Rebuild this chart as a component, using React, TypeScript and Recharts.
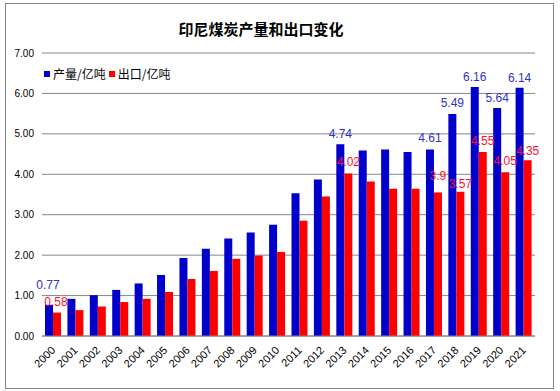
import { BarChart, Bar, XAxis, YAxis, CartesianGrid, LabelList } from 'recharts';

const years = ['2000', '2001', '2002', '2003', '2004', '2005', '2006', '2007', '2008', '2009', '2010',
  '2011', '2012', '2013', '2014', '2015', '2016', '2017', '2018', '2019', '2020', '2021'];

// 产量/亿吨
const production = [0.77, 0.92, 1.01, 1.14, 1.3, 1.51, 1.93, 2.16, 2.41, 2.56, 2.75,
  3.53, 3.87, 4.74, 4.59, 4.61, 4.55, 4.61, 5.49, 6.16, 5.64, 6.14];
// 出口/亿吨
const exports = [0.58, 0.64, 0.73, 0.84, 0.92, 1.09, 1.41, 1.61, 1.91, 1.99, 2.08,
  2.85, 3.45, 4.02, 3.82, 3.64, 3.64, 3.55, 3.57, 4.55, 4.05, 4.35];

// only some bars carry a data label in the original
const productionLabels = ['0.77', '', '', '', '', '', '', '', '', '', '',
  '', '', '4.74', '', '', '', '4.61', '5.49', '6.16', '5.64', '6.14'];
const exportLabels = ['0.58', '', '', '', '', '', '', '', '', '', '',
  '', '', '4.02', '', '', '', '3.9', '3.57', '4.55', '4.05', '4.35'];

const yTicks = [0, 1, 2, 3, 4, 5, 6, 7];

const BLUE = '#0000cc';
const RED = '#ff0000';
const GRID = '#868686';

const data = years.map((year, i) => ({
  year,
  production: production[i],
  exports: exports[i],
  productionLabel: productionLabels[i],
  exportLabel: exportLabels[i],
}));

// labels were dragged by hand in the original, a few sit higher/lower
const prodLift: Record<number, number> = { 0: 16, 17: 8, 18: 7 };
const exportLift: Record<number, number> = { 17: 12, 18: 4, 21: 5 };

const makeLabel = (color: string, dy: number, lift: Record<number, number>) => (props: any) => {
  const { x, y, width, value, index } = props;
  if (!value) return null;
  const up = lift[index] ?? dy;
  return (
    <text
      x={Number(x) + Number(width) / 2 + (index === 0 ? -1 : 0)}
      y={Number(y) - up}
      textAnchor="middle"
      fill={color}
      fontSize={12}
      fontFamily="'Liberation Sans', Arial, sans-serif"
    >
      {value}
    </text>
  );
};

const YearTick = (props: any) => {
  const { x, y, payload } = props;
  return (
    <text
      x={x}
      y={y}
      transform={`rotate(-45 ${x} ${y})`}
      textAnchor="end"
      dy={4}
      fontSize={11}
      fill="#000"
      fontFamily="'Liberation Sans', Arial, sans-serif"
    >
      {payload.value}
    </text>
  );
};

export default function App() {
  return (
    <div style={{ position: 'absolute', left: 0, top: 0, width: 560, height: 391, background: '#fff' }}>
      <div
        style={{
          position: 'absolute',
          left: 5,
          top: 3,
          width: 547,
          height: 384,
          border: '1px solid #888',
        }}
      />
      <div
        style={{
          position: 'absolute',
          left: 161,
          top: 18,
          width: 200,
          textAlign: 'center',
          fontFamily: "'Noto Sans CJK SC', sans-serif",
          fontWeight: 'bold',
          fontSize: 15,
          lineHeight: '22px',
          color: '#000',
        }}
      >
        印尼煤炭产量和出口变化
      </div>
      {/* legend */}
      <div
        style={{
          position: 'absolute',
          left: 44,
          top: 66,
          display: 'flex',
          alignItems: 'center',
          fontFamily: "'Noto Sans CJK SC', sans-serif",
          fontSize: 12,
          lineHeight: '16px',
          color: '#000',
        }}
      >
        <span style={{ width: 6, height: 6, background: BLUE, marginRight: 3 }} />
        <span style={{ marginRight: 3 }}>产量/亿吨</span>
        <span style={{ width: 6, height: 6, background: RED, marginRight: 3 }} />
        <span>出口/亿吨</span>
      </div>
      <div style={{ position: 'absolute', left: 0, top: 0 }}>
        <BarChart
          width={560}
          height={391}
          data={data}
          margin={{ top: 53, right: 25, left: 6, bottom: 15 }}
          barCategoryGap={3}
          barGap={0}
        >
          <CartesianGrid vertical={false} stroke={GRID} strokeWidth={1} />
          <XAxis
            dataKey="year"
            interval={0}
            height={40}
            tickLine={false}
            axisLine={{ stroke: GRID }}
            tick={<YearTick />}
            tickMargin={6}
          />
          <YAxis
            domain={[0, 7]}
            ticks={yTicks}
            width={36}
            tickFormatter={(v: number) => v.toFixed(2)}
            tickLine={false}
            axisLine={false}
            tickSize={0}
            tickMargin={8}
            tick={{ fontSize: 10, fill: '#000', fontFamily: "'Liberation Sans', Arial, sans-serif" }}
          />
          <Bar dataKey="production" fill={BLUE} isAnimationActive={false}>
            <LabelList dataKey="productionLabel" content={makeLabel('#3030cc', 6, prodLift)} />
          </Bar>
          <Bar dataKey="exports" fill={RED} isAnimationActive={false}>
            <LabelList dataKey="exportLabel" content={makeLabel('#ff1030', 7, exportLift)} />
          </Bar>
        </BarChart>
      </div>
    </div>
  );
}
